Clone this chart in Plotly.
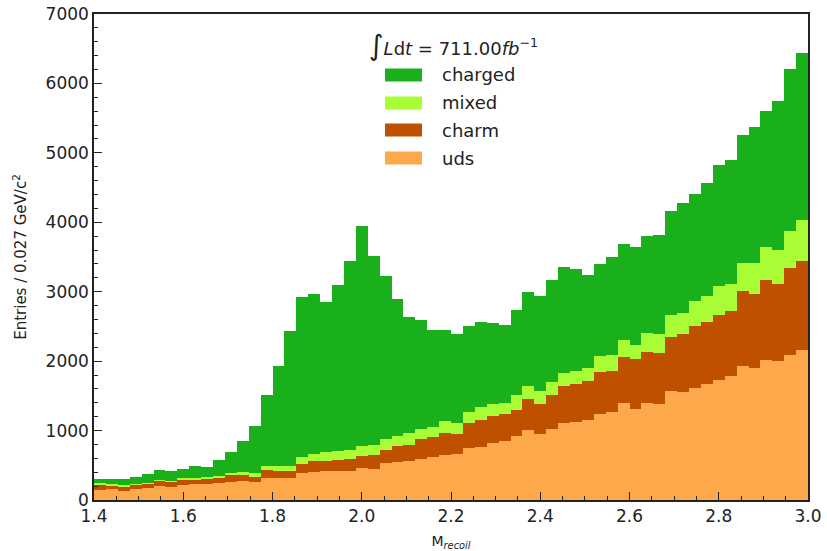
import numpy as np
import plotly.graph_objects as go

# Histogram binning: 60 bins over M_recoil in [1.4, 3.0]
x_lo, x_hi, n_bins = 1.4, 3.0, 60

# Per-bin entries for each component (stacked bottom to top: uds, charm, mixed, charged)
uds = [144, 154, 135, 159, 168, 202, 192, 212, 226, 226,
       240, 255, 279, 260, 322, 312, 312, 394, 409, 413,
       418, 423, 462, 442, 529, 553, 567, 596, 625, 654,
       659, 745, 769, 817, 856, 928, 1010, 952, 1019, 1106,
       1120, 1154, 1240, 1264, 1394, 1308, 1404, 1380, 1572, 1553,
       1620, 1678, 1731, 1788, 1923, 1899, 2019, 1995, 2082, 2163]
charm = [72, 53, 62, 67, 63, 77, 72, 86, 72, 82,
         82, 106, 77, 77, 111, 111, 111, 125, 149, 154,
         159, 173, 173, 207, 192, 226, 226, 279, 279, 308,
         293, 370, 385, 399, 384, 370, 447, 433, 495, 538,
         548, 562, 597, 597, 664, 721, 731, 735, 774, 841,
         880, 885, 937, 928, 1082, 1072, 1154, 1116, 1259, 1284]
mixed = [24, 19, 15, 10, 14, 9, 15, 14, 19, 24,
         24, 24, 53, 57, 62, 72, 72, 96, 105, 121,
         130, 125, 149, 144, 159, 149, 178, 154, 154, 173,
         163, 159, 192, 169, 154, 216, 187, 192, 188, 183,
         193, 183, 230, 230, 240, 207, 269, 279, 322, 298,
         361, 370, 419, 399, 403, 437, 466, 489, 533, 586]
charged = [63, 77, 91, 91, 125, 145, 139, 135, 173, 149,
           231, 303, 437, 668, 1024, 1442, 1943, 2308, 2308, 2168,
           2389, 2719, 3166, 2727, 2350, 1962, 1669, 1567, 1392, 1315,
           1275, 1226, 1214, 1163, 1130, 1226, 1351, 1363, 1468, 1533,
           1461, 1346, 1333, 1409, 1384, 1403, 1398, 1422, 1494, 1581,
           1546, 1637, 1742, 1777, 1844, 1959, 1959, 2142, 2334, 2410]

components = ["uds", "charm", "mixed", "charged"]
colors = {"uds": "#fda84a", "charm": "#bf5000", "mixed": "#a8fd35", "charged": "#19b01c"}
values = {"uds": uds, "charm": charm, "mixed": mixed, "charged": charged}

edges = np.linspace(x_lo, x_hi, n_bins + 1)
centers = 0.5 * (edges[:-1] + edges[1:])
width = edges[1] - edges[0]

FONT = "DejaVu Sans"
INK = "#222222"

fig = go.Figure()
for name in components:
    fig.add_trace(go.Bar(
        x=centers, y=values[name], width=width, name=name,
        marker=dict(color=colors[name], line=dict(width=0)),
        showlegend=False,
    ))

# Legend drawn as wide colour patches with labels, top entry first
legend_order = ["charged", "mixed", "charm", "uds"]
row_y = [0.8745, 0.8169, 0.7613, 0.7037]
shapes = []
annotations = []
for name, yc in zip(legend_order, row_y):
    shapes.append(dict(type="rect", xref="paper", yref="paper",
                       x0=0.4076, x1=0.4594, y0=yc - 0.0134, y1=yc + 0.0134,
                       fillcolor=colors[name], line=dict(width=0), layer="above"))
    annotations.append(dict(xref="paper", yref="paper", x=0.485, y=yc,
                            xanchor="left", yanchor="middle", showarrow=False,
                            text=name, font=dict(family=FONT, size=18, color=INK)))

annotations.append(dict(
    xref="paper", yref="paper", x=0.503, y=0.935, xanchor="center", yanchor="middle",
    showarrow=False,
    text='<span style="font-size:28px">∫</span><i>L</i>d<i>t</i> = 711.00<i>fb</i><sup>−1</sup>',
    font=dict(family=FONT, size=18, color=INK),
))

fig.update_layout(
    width=827, height=551,
    margin=dict(l=94, r=19, t=14, b=51),
    paper_bgcolor="white", plot_bgcolor="white",
    barmode="stack", bargap=0,
    font=dict(family=FONT, size=17, color=INK),
    shapes=shapes, annotations=annotations,
    xaxis=dict(
        range=[x_lo, x_hi], dtick=0.2, tick0=1.4, tickformat=".1f",
        ticks="inside", ticklen=8, tickwidth=1.2, tickcolor=INK,
        minor=dict(ticks="inside", ticklen=4, tickwidth=1, tickcolor=INK, dtick=0.05),
        showline=True, linecolor=INK, linewidth=1.5, mirror=True,
        showgrid=False, zeroline=False, automargin=False,
        tickfont=dict(family=FONT, size=17, color=INK),
        title=dict(text="M<sub><i>recoil</i></sub>",
                   font=dict(family=FONT, size=14, color=INK)),
    ),
    yaxis=dict(
        range=[0, 7000], dtick=1000, tick0=0,
        ticks="inside", ticklen=8, tickwidth=1.2, tickcolor=INK,
        minor=dict(ticks="inside", ticklen=4, tickwidth=1, tickcolor=INK, dtick=200),
        showline=True, linecolor=INK, linewidth=1.5, mirror=True,
        showgrid=False, zeroline=False, automargin=False,
        tickfont=dict(family=FONT, size=17, color=INK),
        title=dict(text="Entries / 0.027 GeV/c<sup>2</sup>",
                   font=dict(family=FONT, size=15, color=INK)),
    ),
)

fig.write_html("out.html")
